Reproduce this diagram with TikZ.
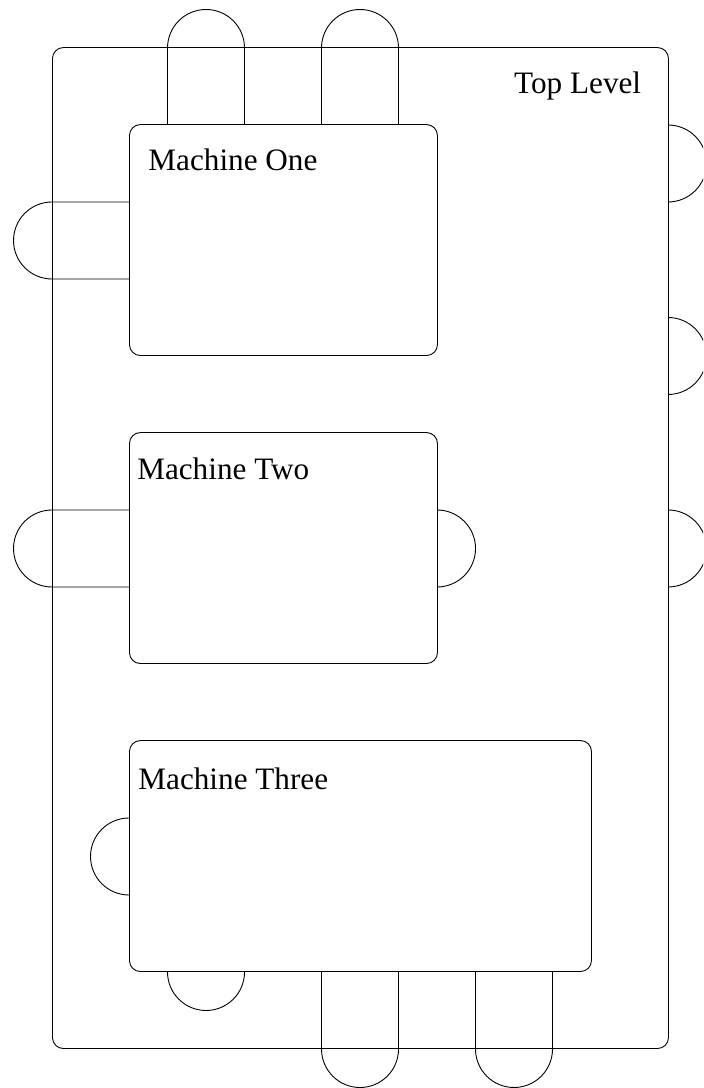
\documentclass[tikz,border=0pt]{standalone}
\usepackage{fontspec}
\setmainfont{Liberation Serif}
\tikzset{
  block/.style={
    draw,
    line width=0.9pt,
    rounded corners=11pt,
    inner sep=0pt,
    anchor=south west
  },
  title/.style={
    inner sep=0pt,
    anchor=base west,
    font=\fontsize{31.2}{37}\selectfont
  },
  port/.style={draw, line width=0.9pt}
}

\begin{document}
\begin{tikzpicture}[x=38.5pt, y=38.5pt]
  \useasboundingbox (-1.351,-1.013) rectangle (16.909,27.247);
  \clip (-1.351,-1.013) rectangle (16.909,27.247);

  % outer block and the three machines
  \node[block, minimum width=616pt, minimum height=1001pt] (top) at (0,0) {};
  \node[block, minimum width=308pt, minimum height=231pt] (one) at (2,18) {};
  \node[block, minimum width=308pt, minimum height=231pt] (two) at (2,10) {};
  \node[block, minimum width=462pt, minimum height=231pt] (three) at (2,2) {};

  \node[title] (top-title) at (12.0,24.82) {Top Level};
  \node[title] (one-title) at (2.5,22.81) {Machine One};
  \node[title] (two-title) at (2.21,14.78) {Machine Two};
  \node[title] (three-title) at (2.24,6.745) {Machine Three};

  % machine one: two ports out through the top, one out to the left
  \path[port] (3,24) -- (3,26) arc[start angle=180, end angle=0, radius=1] -- (5,24);
  \path[port] (7,24) -- (7,26) arc[start angle=180, end angle=0, radius=1] -- (9,24);
  \path[port] (2,20) -- (0,20) arc[start angle=270, end angle=90, radius=1] -- (2,22);

  % machine two
  \path[port] (2,12) -- (0,12) arc[start angle=270, end angle=90, radius=1] -- (2,14);
  \path[port] (10,12) arc[start angle=-90, end angle=90, radius=1];

  % machine three
  \path[port] (2,4) arc[start angle=270, end angle=90, radius=1];
  \path[port] (3,2) arc[start angle=180, end angle=360, radius=1];
  \path[port] (7,2) -- (7,0) arc[start angle=180, end angle=360, radius=1] -- (9,2);
  \path[port] (11,2) -- (11,0) arc[start angle=180, end angle=360, radius=1] -- (13,2);

  % free ports on the right of the top level
  \path[port] (16,22) arc[start angle=-90, end angle=90, radius=1];
  \path[port] (16,17) arc[start angle=-90, end angle=90, radius=1];
  \path[port] (16,12) arc[start angle=-90, end angle=90, radius=1];
\end{tikzpicture}
\end{document}
